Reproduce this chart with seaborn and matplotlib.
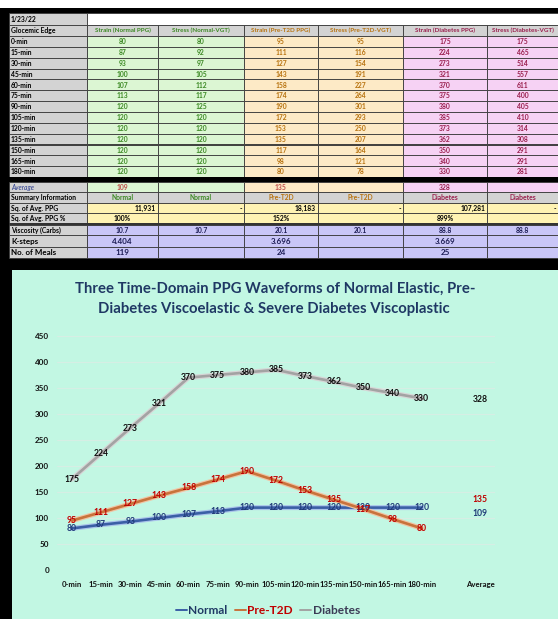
import numpy as np
import pandas as pd
import matplotlib
matplotlib.use("Agg")
import matplotlib.pyplot as plt
import matplotlib.patheffects as pe
from matplotlib.patches import Rectangle
from matplotlib.lines import Line2D
import seaborn as sns

# ---------------- data ----------------
times = ["0-min", "15-min", "30-min", "45-min", "60-min", "75-min", "90-min",
         "105-min", "120-min", "135-min", "150-min", "165-min", "180-min"]
normal_strain = [80, 87, 93, 100, 107, 113, 120, 120, 120, 120, 120, 120, 120]
normal_stress = [80, 92, 97, 105, 112, 117, 125, 120, 120, 120, 120, 120, 120]
pre_strain = [95, 111, 127, 143, 158, 174, 190, 172, 153, 135, 117, 98, 80]
pre_stress = [95, 116, 154, 191, 227, 264, 301, 293, 250, 207, 164, 121, 78]
diab_strain = [175, 224, 273, 321, 370, 375, 380, 385, 373, 362, 350, 340, 330]
diab_stress = [175, 465, 514, 557, 611, 400, 405, 410, 314, 308, 291, 291, 281]
averages = [109, 135, 328]
series_names = ["Normal", "Pre-T2D", "Diabetes"]
headers = ["Strain (Normal PPG)", "Stress (Normal-VGT)", "Strain (Pre-T2D PPG)",
           "Stress (Pre-T2D-VGT)", "Strain (Diabetes PPG)", "Stress (Diabetes-VGT)"]
sq_avg = ["11,931", "-", "18,183", "-", "107,281", "-"]
sq_pct = ["100%", "", "152%", "", "899%", ""]
viscosity = ["10.7", "10.7", "20.1", "20.1", "88.8", "88.8"]
ksteps = ["4.404", "", "3.696", "", "3.669", ""]
meals = ["119", "", "24", "", "25", ""]
x_labels = times + ["", "Average"]
y_ticks = [0, 50, 100, 150, 200, 250, 300, 350, 400, 450]
title1 = "Three Time-Domain PPG Waveforms of Normal Elastic, Pre-"
title2 = "Diabetes Viscoelastic & Severe Diabetes Viscoplastic"

# ---------------- style ----------------
sns.set_theme(style="white")
plt.rcParams["font.family"] = ["Lato", "DejaVu Sans"]

W, H = 558, 619
fig = plt.figure(figsize=(W / 100, H / 100), dpi=100)
fig.patch.set_facecolor("white")
bg = fig.add_axes([0, 0, 1, 1])
bg.set_xlim(0, W)
bg.set_ylim(H, 0)
bg.axis("off")

# black frame behind table/chart
bg.add_patch(Rectangle((0, 8), W, H - 8, fc="black", ec="none", zorder=0))

cx = [9, 87, 158, 244, 318, 403, 487, 558]
grey = "#d3d3d3"
green_bg, orange_bg, pink_bg = "#dcf6d3", "#fdeac6", "#f6d2f4"
yellow_bg, lav_bg = "#fff3b3", "#c9c6f7"
green_t, orange_t, maroon_t = "#3d8a25", "#b8730f", "#9a1f4e"
group_bg = [green_bg, green_bg, orange_bg, orange_bg, pink_bg, pink_bg]
group_t = [green_t, green_t, orange_t, orange_t, maroon_t, maroon_t]
line_c = "#3a3a3a"


def cell(x0, x1, y0, y1, fc, text="", color="black", ha="center", fs=4.9,
         weight="bold", style="normal"):
    bg.add_patch(Rectangle((x0, y0), x1 - x0, y1 - y0, fc=fc, ec=line_c, lw=0.6, zorder=1))
    if text:
        if ha == "center":
            tx = (x0 + x1) / 2
        elif ha == "left":
            tx = x0 + 2
        else:
            tx = x1 - 2
        bg.text(tx, (y0 + y1) / 2 + 0.3, text, ha=ha, va="center", fontsize=fs,
                color=color, fontweight=weight, fontstyle=style, zorder=2)


# row 1 : date
cell(cx[0], cx[1], 13, 25, grey, "1/23/22", ha="left")
cell(cx[1], cx[7], 13, 25, "white")
# header row
cell(cx[0], cx[1], 25, 36, grey, "Glocemic Edge", ha="left")
for j in range(6):
    cell(cx[j + 1], cx[j + 2], 25, 36, grey, headers[j], color=group_t[j], fs=4.5)
# time rows
cols = [normal_strain, normal_stress, pre_strain, pre_stress, diab_strain, diab_stress]
rh = 10.85
for i, t in enumerate(times):
    y0 = 36 + i * rh
    y1 = y0 + rh
    cell(cx[0], cx[1], y0, y1, grey, t, ha="left")
    for j in range(6):
        cell(cx[j + 1], cx[j + 2], y0, y1, group_bg[j], str(cols[j][i]), color=group_t[j])
# thick separator
bg.add_patch(Rectangle((cx[0], 177), W - cx[0], 5, fc="black", ec="none", zorder=3))
# average row
cell(cx[0], cx[1], 182, 192, grey, "Average", color="#2b3d8f", ha="left", weight="normal", style="italic")
avg_cells = [str(averages[0]), "", str(averages[1]), "", str(averages[2]), ""]
avg_col = ["#c0504d", "", "#c0504d", "", maroon_t, ""]
for j in range(6):
    cell(cx[j + 1], cx[j + 2], 182, 192, group_bg[j], avg_cells[j], color=avg_col[j] or "black")
# summary row
cell(cx[0], cx[1], 192, 203, grey, "Summary Information", ha="left")
summ = ["Normal", "Normal", "Pre-T2D", "Pre-T2D", "Diabetes", "Diabetes"]
for j in range(6):
    cell(cx[j + 1], cx[j + 2], 192, 203, grey, summ[j], color=group_t[j])
# sq avg rows
cell(cx[0], cx[1], 203, 213, grey, "Sq. of Avg. PPG", ha="left")
for j in range(6):
    cell(cx[j + 1], cx[j + 2], 203, 213, yellow_bg, sq_avg[j], ha="right")
cell(cx[0], cx[1], 213, 224, grey, "Sq. of Avg. PPG %", ha="left")
for j in range(6):
    cell(cx[j + 1], cx[j + 2], 213, 224, yellow_bg, sq_pct[j])
# lavender rows
bg.add_patch(Rectangle((cx[0], 223.2), W - cx[0], 1.6, fc="#333333", ec="none", zorder=3))
cell(cx[0], cx[1], 224.5, 235, grey, "Viscosity (Carbs)", ha="left")
for j in range(6):
    cell(cx[j + 1], cx[j + 2], 224.5, 235, lav_bg, viscosity[j], color="#1c1c55")
cell(cx[0], cx[1], 235, 247, grey, "K-steps", ha="left", fs=5.8)
for j in range(6):
    cell(cx[j + 1], cx[j + 2], 235, 247, lav_bg, ksteps[j], color="#1c1c55", fs=5.8)
cell(cx[0], cx[1], 247, 258, grey, "No. of Meals", ha="left", fs=5.8)
for j in range(6):
    cell(cx[j + 1], cx[j + 2], 247, 258, lav_bg, meals[j], color="#1c1c55", fs=5.8)

# chart background
mint = "#c2f7e3"
bg.add_patch(Rectangle((12, 270), W - 12, H - 270, fc=mint, ec="none", zorder=1))

# ---------------- chart ----------------
ax = fig.add_axes([57.4 / W, (H - 570) / H, (494.6 - 57.4) / W, (570 - 336) / H])
ax.set_facecolor("none")

long = pd.DataFrame({
    "pos": list(range(len(times))) * 3,
    "value": normal_strain + pre_strain + diab_strain,
    "series": [s for s in series_names for _ in times],
})
colors = {"Normal": "#3b5fa6", "Pre-T2D": "#c8733c", "Diabetes": "#a3a3a3"}
halos = {"Normal": "#a9c3ea", "Pre-T2D": "#f0c4a4", "Diabetes": "#d6d6d6"}
sns.lineplot(data=long, x="pos", y="value", hue="series", hue_order=series_names,
             palette=colors, estimator=None, sort=False, linewidth=1.9,
             legend=False, ax=ax, zorder=3)
for line, name in zip(ax.get_lines(), series_names):
    line.set_path_effects([pe.Stroke(linewidth=3.6, foreground=halos[name]), pe.Normal()])

label_c = {"Normal": "#1f3a78", "Pre-T2D": "#c00000", "Diabetes": "#111111"}
for name, vals, avg in zip(series_names, [normal_strain, pre_strain, diab_strain], averages):
    for i, v in enumerate(vals):
        ax.text(i, v, str(v), ha="center", va="center", fontsize=6.2, fontweight="bold",
                color=label_c[name], zorder=5)
    ax.text(len(x_labels) - 1, avg, str(avg), ha="center", va="center", fontsize=6.2,
            fontweight="bold", color=label_c[name], zorder=5)

ax.set_xlim(-0.5, len(x_labels) - 0.5)
ax.set_ylim(0, 450)
ax.set_xticks(range(len(x_labels)))
ax.set_xticklabels(x_labels, fontsize=5.6, fontweight="bold", color="#111111")
ax.set_yticks(y_ticks)
ax.set_yticklabels([str(v) for v in y_ticks], fontsize=5.8, fontweight="bold", color="#111111")
ax.tick_params(axis="both", length=0)
ax.tick_params(axis="x", pad=8)
ax.tick_params(axis="y", pad=6)
ax.set_xlabel("")
ax.set_ylabel("")
for s in ax.spines.values():
    s.set_visible(False)
ax.grid(axis="y", color="#d6eee4", linewidth=0.8)
ax.grid(axis="x", visible=False)
ax.set_axisbelow(True)

# title
fig.text(275 / W, 1 - 289 / H, title1, ha="center", va="center", fontsize=10.7,
         fontweight="bold", color="#1f3864")
fig.text(274 / W, 1 - 309 / H, title2, ha="center", va="center", fontsize=10.7,
         fontweight="bold", color="#1f3864")

# legend
handles = [Line2D([0], [0], color=colors[n], lw=1.4) for n in series_names]
leg = fig.legend(handles, series_names, loc="center", bbox_to_anchor=(268 / W, 1 - 611 / H),
                 ncol=3, frameon=False, handlelength=0.9, handletextpad=0.15,
                 columnspacing=0.6, prop={"size": 8.6, "weight": "bold"})
for txt, c in zip(leg.get_texts(), ["#1f3864", "#c00000", "#3b3b55"]):
    txt.set_color(c)

fig.savefig("out.png", dpi=100)
